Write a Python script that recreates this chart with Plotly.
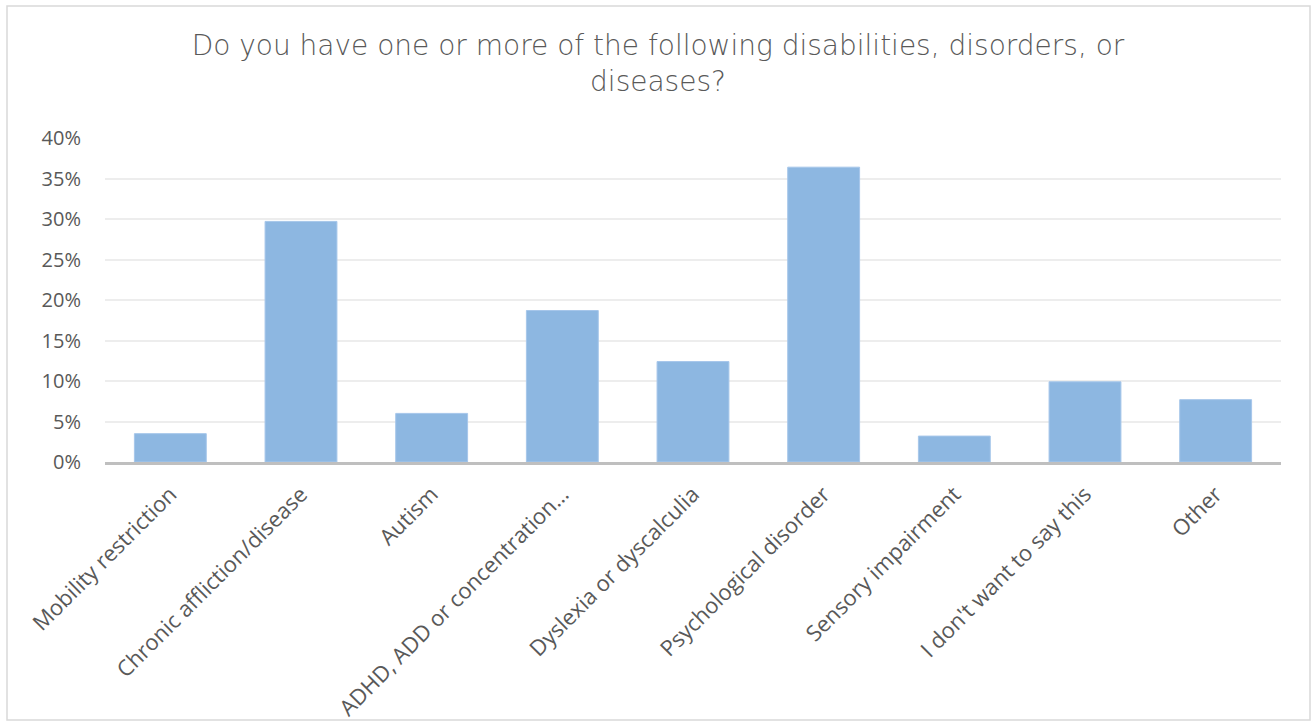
import plotly.graph_objects as go

# Survey answers (share of respondents)
categories = [
    "Mobility restriction",
    "Chronic affliction/disease",
    "Autism",
    "ADHD, ADD or concentration…",
    "Dyslexia or dyscalculia",
    "Psychological disorder",
    "Sensory impairment",
    "I don't want to say this",
    "Other",
]
shares = [0.035, 0.297, 0.060, 0.187, 0.124, 0.364, 0.032, 0.099, 0.077]

y_ticks = [0, 0.05, 0.10, 0.15, 0.20, 0.25, 0.30, 0.35, 0.40]

TEXT_GREY = "#595959"
W, H = 1313, 722
ML, MR, MT, MB = 105, 32, 138, 260
plot_w = W - ML - MR
plot_h = H - MT - MB

fig = go.Figure(
    go.Bar(
        x=categories,
        y=shares,
        marker=dict(color="#8DB7E1", line=dict(color="#A6C6EA", width=1)),
        hoverinfo="x+y",
    )
)

# light frame round the whole chart
def px_to_paper_x(px):
    return (px - ML) / plot_w

def px_to_paper_y(py):
    return (H - MB - py) / plot_h

fig.add_shape(
    type="rect", xref="paper", yref="paper",
    x0=px_to_paper_x(7), x1=px_to_paper_x(1310),
    y0=px_to_paper_y(720), y1=px_to_paper_y(6),
    line=dict(color="#D9D9D9", width=1.5), fillcolor="rgba(0,0,0,0)", layer="below",
)

fig.update_layout(
    width=W, height=H,
    margin=dict(l=ML, r=MR, t=MT, b=MB, autoexpand=False),
    paper_bgcolor="white", plot_bgcolor="white",
    bargap=0.45,
    showlegend=False,
    title=dict(
        text="Do you have one or more of the following disabilities, disorders, or<br>diseases?",
        x=658 / W, xanchor="center", xref="container",
        y=1 - 55 / H, yanchor="top",
        font=dict(family="DejaVu Sans, sans-serif", size=28, weight=200, color=TEXT_GREY),
    ),
    font=dict(family="Open Sans, sans-serif", size=20, color=TEXT_GREY),
)

fig.update_xaxes(
    tickangle=-45,
    automargin=False,
    showline=True, linecolor="#BFBFBF", linewidth=2.5,
    showgrid=False, ticks="",
    ticklabelstandoff=8,
    tickfont=dict(family="Open Sans, sans-serif", size=22, color=TEXT_GREY),
)
fig.update_yaxes(
    range=[0, 0.40],
    automargin=False,
    tickvals=y_ticks,
    tickformat=".0%",
    showgrid=True, gridcolor="#EDEDED", gridwidth=1.5,
    zeroline=False, showline=False, ticks="",
    ticklabelstandoff=23,
    tickfont=dict(family="Open Sans, sans-serif", size=20, color=TEXT_GREY),
)

fig.write_html("out.html")
